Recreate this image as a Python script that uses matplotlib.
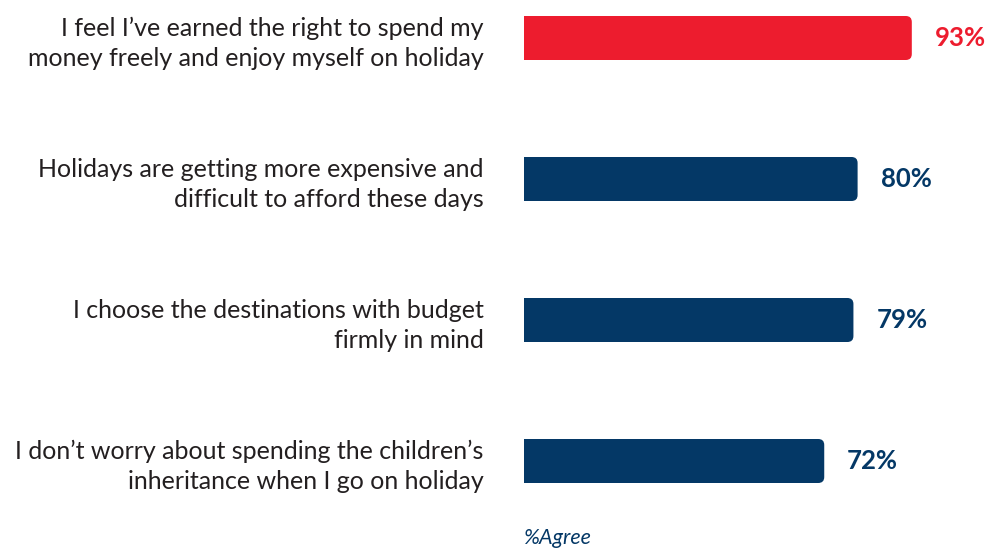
import matplotlib
matplotlib.use("Agg")
import matplotlib.pyplot as plt
from matplotlib.patches import FancyBboxPatch, Rectangle

# Dados do gráfico
categorias = [
    "I feel I\u2019ve earned the right to spend my\nmoney freely and enjoy myself on holiday",
    "Holidays are getting more expensive and\ndifficult to afford these days",
    "I choose the destinations with budget\nfirmly in mind",
    "I don\u2019t worry about spending the children\u2019s\ninheritance when I go on holiday",
]
valores = [93, 80, 79, 72]
rotulos = ["93%", "80%", "79%", "72%"]

VERMELHO = "#ED1C2E"
AZUL = "#043866"
cores = [VERMELHO, AZUL, AZUL, AZUL]

plt.rcParams['font.family'] = ['Lato', 'DejaVu Sans']

W, H = 990, 549
fig = plt.figure(figsize=(W / 100, H / 100), dpi=100)
x0 = 524
escala = 4.17  # px por %
ax = fig.add_axes([x0 / W, 0, 1 - x0 / W, 1])
ax.set_xlim(0, (W - x0) / escala)
passo = 141
ax.set_ylim(3 + (H - 461) / passo, -38 / passo)

altura = 44 / passo
raio_x = 6 / escala
raio_y = 6 / passo
for i, (v, c) in enumerate(zip(valores, cores)):
    # barra arredondada à direita, quadrada à esquerda
    p = FancyBboxPatch((0, i - altura / 2), v, altura,
                       boxstyle=f"round,pad=0,rounding_size={raio_x}",
                       mutation_aspect=raio_y / raio_x,
                       facecolor=c, edgecolor="none")
    ax.add_patch(p)
    ax.add_patch(Rectangle((0, i - altura / 2), v / 2, altura,
                           facecolor=c, edgecolor="none"))
    ax.text(v + 23 / escala, i, rotulos[i], color=c, fontsize=18.5,
            fontweight="bold", va="center", ha="left")

ax.set_yticks(range(len(categorias)))
ax.set_yticklabels(categorias, fontsize=18, color="#231F20", linespacing=1.38)
ax.tick_params(axis="y", length=0, pad=29)
ax.set_xticks([])
for s in ax.spines.values():
    s.set_visible(False)

ax.text(0, 3 + 77 / passo, "%Agree", color=AZUL, fontsize=15.5,
        fontstyle="italic", va="center", ha="left")

fig.savefig("out.png", dpi=100)
